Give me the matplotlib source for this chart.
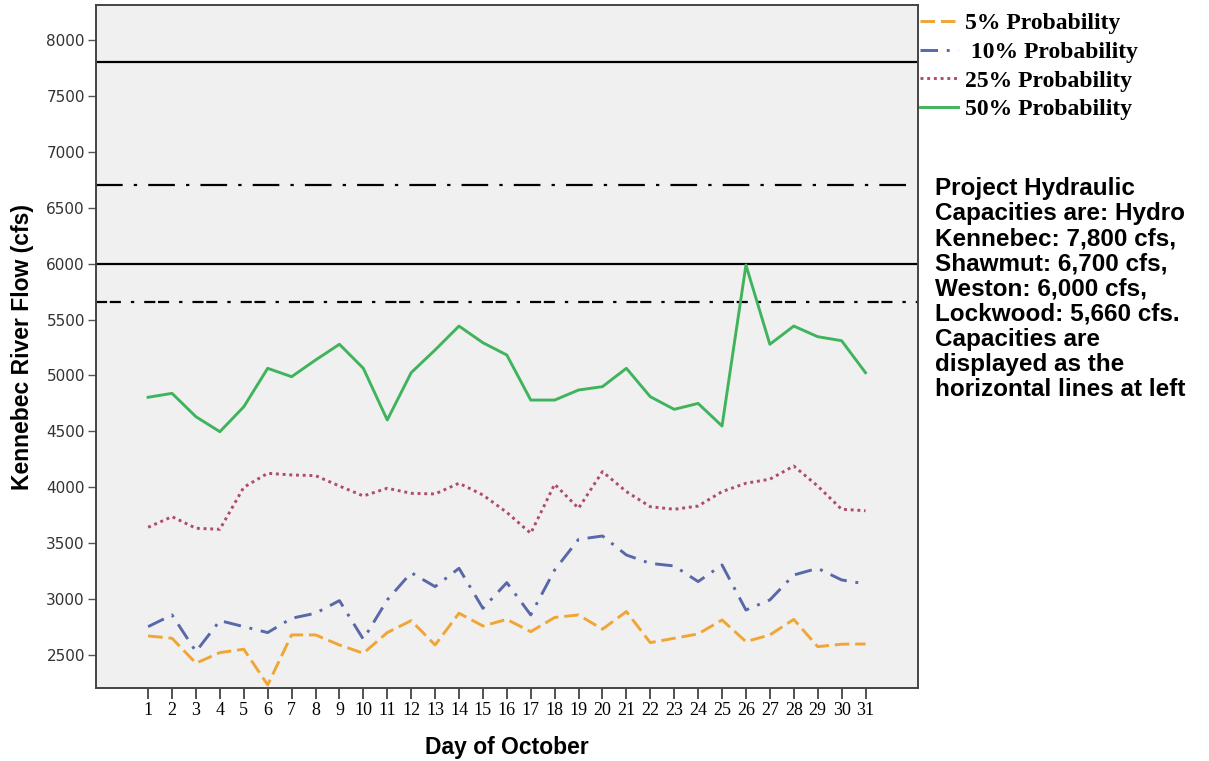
import matplotlib
matplotlib.use("Agg")
import matplotlib.pyplot as plt

# data
days = list(range(1, 32))
p5 = [2670, 2649, 2426, 2521, 2551, 2232, 2679, 2679, 2589, 2515,
      2700, 2807, 2589, 2873, 2759, 2818, 2708, 2835, 2858, 2730,
      2888, 2610, 2649, 2688, 2813, 2619, 2679, 2818, 2574, 2596, 2598]
p10 = [2753, 2858, 2530, 2807, 2753, 2700, 2828, 2873, 2986, 2640,
       2992, 3236, 3111, 3275, 2917, 3147, 2858, 3260, 3534, 3564,
       3394, 3319, 3296, 3156, 3305, 2902, 2992, 3215, 3275, 3171, 3135]
p25 = [3642, 3737, 3633, 3624, 4000, 4125, 4110, 4104, 4011, 3922,
       3991, 3946, 3940, 4036, 3931, 3775, 3588, 4027, 3812, 4140,
       3961, 3826, 3803, 3832, 3961, 4036, 4072, 4190, 4011, 3803, 3790]
p50 = [4805, 4840, 4631, 4497, 4720, 5064, 4989, 5138, 5279, 5064,
       4602, 5025, 5228, 5442, 5293, 5183, 4780, 4780, 4870, 4900,
       5064, 4810, 4697, 4750, 4548, 5988, 5279, 5442, 5347, 5311, 5025]
labels = ["5% Probability", " 10% Probability", "25% Probability", "50% Probability"]
capacities = [7800, 6700, 6000, 5660]
yticks = [2500, 3000, 3500, 4000, 4500, 5000, 5500, 6000, 6500, 7000, 7500, 8000]

fig = plt.figure(figsize=(12.09, 7.61), dpi=100)
ax = fig.add_axes([0.0794, 0.0959, 0.680, 0.8975])
ax.set_facecolor("#f0f0f0")

# capacity lines
ax.axhline(capacities[0], color="black", lw=1.6)
ax.axhline(capacities[1], color="black", lw=1.6, dashes=(12, 5, 1.5, 5))
ax.axhline(capacities[2], color="black", lw=1.6)
ax.axhline(capacities[3], color="black", lw=1.6, dashes=(5, 1.2, 5, 4.5, 1.5, 4.5))

# probability series
l1, = ax.plot(days, p5, color="#f0a535", lw=2.1, dashes=(5, 2))
l2, = ax.plot(days, p10, color="#5868a8", lw=2.1, dashes=(6, 3, 1, 3))
l3, = ax.plot(days, p25, color="#b04a70", lw=2.1, dashes=(1, 1.3))
l4, = ax.plot(days, p50, color="#40b45c", lw=2.1)

ax.set_xlim(-1.18, 33.2)
ax.set_ylim(2204, 8314)
ax.set_xticks(days)
ax.set_xticklabels([str(d) for d in days], fontfamily="Liberation Serif", fontsize=13)
ax.set_yticks(yticks)
ax.set_yticklabels([str(v) for v in yticks], fontfamily="DejaVu Sans", fontsize=11, color="#333333")
ax.tick_params(axis="x", direction="out", length=8, width=1.2, pad=2, color="#333333")
ax.tick_params(axis="y", direction="out", length=6, width=1.0, pad=2, color="#555555")
for s in ax.spines.values():
    s.set_color("#444444")
    s.set_linewidth(1.4)

ax.set_xlabel("Day of October", fontfamily="Liberation Sans", fontweight="bold", fontsize=16.5, labelpad=12)
ax.set_ylabel("Kennebec River Flow (cfs)", fontfamily="Liberation Sans", fontweight="bold", fontsize=16.5, labelpad=9)

leg = ax.legend([l1, l2, l3, l4], labels, loc="upper left", bbox_to_anchor=(1.0, 0.992),
                frameon=False, borderaxespad=0.0, borderpad=0.1, handlelength=1.6,
                handletextpad=0.3, labelspacing=0.3,
                prop={"family": "Liberation Serif", "weight": "bold", "size": 17})

note = ("Project Hydraulic\nCapacities are: Hydro\nKennebec: 7,800 cfs,\n"
        "Shawmut: 6,700 cfs,\nWeston: 6,000 cfs,\nLockwood: 5,660 cfs.\n"
        "Capacities are\ndisplayed as the\nhorizontal lines at left")
fig.text(0.7735, 1 - 177 / 761, note, ha="left", va="top", fontfamily="Liberation Sans",
         fontweight="bold", fontsize=17.5, linespacing=1.12)

fig.savefig("out.png", dpi=100)
